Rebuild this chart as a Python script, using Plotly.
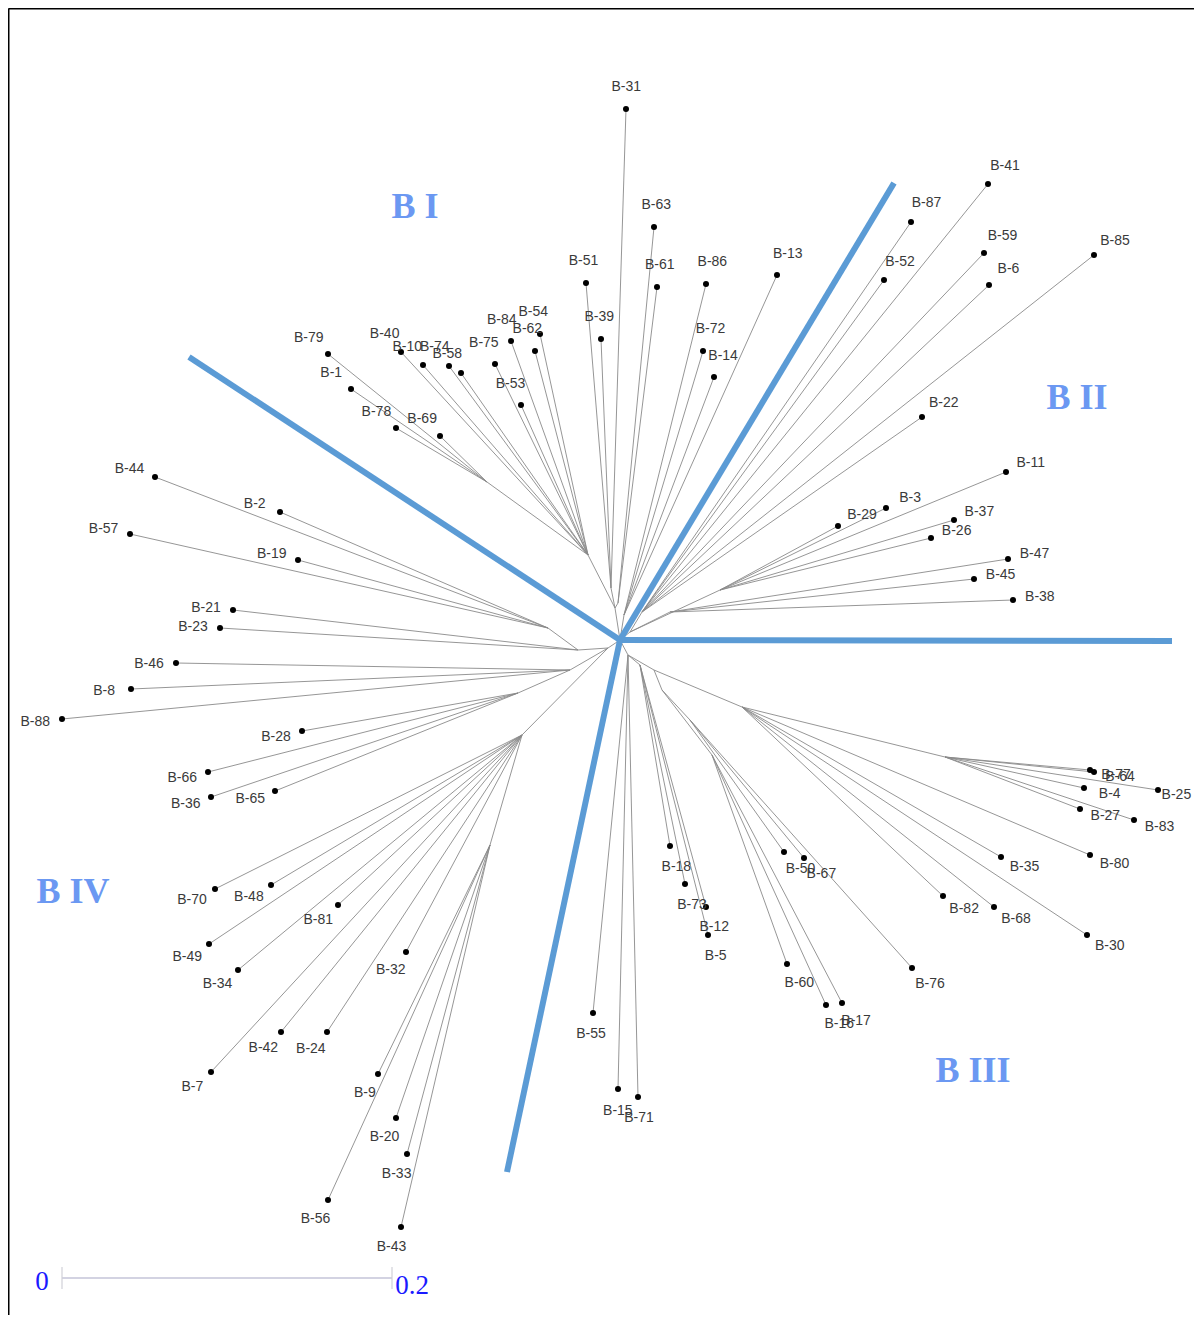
import math
import plotly.graph_objects as go

# ---------------- data: internal nodes of the unrooted tree ----------------
node_names  = ["C", "I0", "I1", "I2", "I3", "I4", "I5",
               "II0", "II1", "II2", "II3",
               "III0", "III1", "III2", "III3", "III4", "III5", "III6", "III7",
               "IV0", "IV1", "IV2", "IV3", "IV4", "IV5", "IV6"]
node_x      = [620, 615, 588, 487, 611, 618, 624,
               630, 642, 720, 670,
               628, 654, 742, 945, 640, 662, 712, 690,
               608, 578, 548, 570, 518, 522, 490]
node_y      = [640, 608, 555, 482, 588, 603, 615,
               632, 612, 590, 612,
               655, 670, 707, 757, 665, 690, 755, 720,
               648, 650, 628, 670, 693, 735, 845]
node_parent = [None, "C", "I0", "I1", "I0", "I0", "C",
               "C", "II0", "II0", "II0",
               "C", "III0", "III1", "III2", "III0", "III1", "III5", "III5",
               "C", "IV0", "IV1", "IV0", "IV3", "IV0", "IV5"]

# ---------------- data: leaves ----------------
leaf_names = ["B-31", "B-63", "B-51", "B-61", "B-86", "B-13", "B-39", "B-72", "B-14",
              "B-84", "B-54", "B-62", "B-75", "B-53", "B-40", "B-10", "B-74", "B-58",
              "B-79", "B-1", "B-78", "B-69",
              "B-41", "B-87", "B-59", "B-85", "B-52", "B-6", "B-22",
              "B-11", "B-3", "B-29", "B-37", "B-26", "B-47", "B-45", "B-38",
              "B-77", "B-64", "B-25", "B-4", "B-27", "B-83", "B-80", "B-35", "B-82",
              "B-68", "B-30", "B-76", "B-50", "B-67", "B-60", "B-16", "B-17",
              "B-18", "B-73", "B-12", "B-5", "B-55", "B-15", "B-71",
              "B-44", "B-2", "B-57", "B-19", "B-21", "B-23", "B-46", "B-8", "B-88",
              "B-28", "B-66", "B-36", "B-65", "B-70", "B-48", "B-81", "B-49", "B-34",
              "B-32", "B-42", "B-24", "B-7", "B-9", "B-20", "B-33", "B-56", "B-43"]
leaf_x = [626, 654, 586, 657, 706, 777, 601, 703, 714,
          511, 540, 535, 495, 521, 401, 423, 449, 461,
          328, 351, 396, 440,
          988, 911, 984, 1094, 884, 989, 922,
          1006, 886, 838, 954, 931, 1008, 974, 1013,
          1090, 1094, 1158, 1084, 1080, 1134, 1090, 1001, 943,
          994, 1087, 912, 784, 804, 787, 826, 842,
          670, 685, 706, 708, 593, 618, 638,
          155, 280, 130, 298, 233, 220, 176, 131, 62,
          302, 208, 211, 275, 215, 271, 338, 209, 238,
          406, 281, 327, 211, 378, 396, 407, 328, 401]
leaf_y = [109, 227, 283, 287, 284, 275, 339, 351, 377,
          341, 334, 351, 364, 405, 352, 365, 366, 373,
          354, 389, 428, 436,
          184, 222, 253, 255, 280, 285, 417,
          472, 508, 526, 520, 538, 559, 579, 600,
          770, 772, 790, 788, 809, 820, 855, 857, 896,
          907, 935, 968, 852, 858, 964, 1005, 1003,
          846, 884, 907, 935, 1013, 1089, 1097,
          477, 512, 534, 560, 610, 628, 663, 689, 719,
          731, 772, 797, 791, 889, 885, 905, 944, 970,
          952, 1032, 1032, 1072, 1074, 1118, 1154, 1200, 1227]
leaf_parent = ["I3", "I4", "I3", "I4", "I5", "I5", "I3", "I5", "I5",
               "I1", "I1", "I1", "I1", "I1", "I1", "I1", "I1", "I1",
               "I2", "I2", "I2", "I2",
               "II1", "II1", "II1", "II1", "II1", "II1", "II1",
               "II2", "II2", "II2", "II2", "II2", "II3", "II3", "II3",
               "III3", "III3", "III3", "III3", "III3", "III3", "III2", "III2", "III2",
               "III2", "III2", "III7", "III7", "III7", "III6", "III6", "III6",
               "III4", "III4", "III4", "III4", "III0", "III0", "III0",
               "IV2", "IV2", "IV2", "IV2", "IV1", "IV1", "IV3", "IV3", "IV3",
               "IV4", "IV4", "IV4", "IV4", "IV5", "IV5", "IV5", "IV5", "IV5",
               "IV5", "IV5", "IV5", "IV5", "IV6", "IV6", "IV6", "IV6", "IV6"]

# cluster labels and separators
cluster_names = ["B I", "B II", "B III", "B IV"]
cluster_x = [415, 1077, 973, 73]
cluster_y = [209, 400, 1073, 894]
divider_end_x = [189, 894, 1172, 507]
divider_end_y = [357, 183, 641, 1172]

# scale bar (0 .. 0.2)
scale_values = [0, 0.2]
scale_px_per_unit = 1650.0
scale_origin = (62, 1278)

W, H = 1202, 1323
PAGE_OFFSET = 8  # default body margin of the html page
FIG_W, FIG_H = W - PAGE_OFFSET, H - 2 * PAGE_OFFSET
VISIBLE_RIGHT = W - PAGE_OFFSET - 2

pos = {n: (x, y) for n, x, y in zip(node_names, node_x, node_y)}
parent_of = dict(zip(node_names, node_parent))
center = pos["C"]

# ---------------- edges ----------------
ex, ey = [], []
for n, p in parent_of.items():
    if p is None:
        continue
    ex += [pos[n][0], pos[p][0], None]
    ey += [pos[n][1], pos[p][1], None]
for lx, ly, p in zip(leaf_x, leaf_y, leaf_parent):
    ex += [lx, pos[p][0], None]
    ey += [ly, pos[p][1], None]

fig = go.Figure()
fig.add_trace(go.Scatter(x=ex, y=ey, mode="lines",
                         line=dict(color="#8a8a8a", width=0.9),
                         hoverinfo="skip", showlegend=False))

# dividers
dx, dy = [], []
for x2, y2 in zip(divider_end_x, divider_end_y):
    dx += [center[0], x2, None]
    dy += [center[1], y2, None]
fig.add_trace(go.Scatter(x=dx, y=dy, mode="lines",
                         line=dict(color="#5b9bd5", width=6),
                         hoverinfo="skip", showlegend=False))

# leaf dots
fig.add_trace(go.Scatter(x=leaf_x, y=leaf_y, mode="markers",
                         marker=dict(color="black", size=6),
                         text=leaf_names, hoverinfo="text", showlegend=False))

# leaf labels placed radially outward from the centre (kept inside the page)
tx, ty = [], []
for name, lx, ly in zip(leaf_names, leaf_x, leaf_y):
    vx, vy = lx - center[0], ly - center[1]
    r = math.hypot(vx, vy)
    half_w = 3.9 * len(name)
    tx.append(min(lx + 27 * vx / r, VISIBLE_RIGHT - half_w))
    ty.append(ly + 22 * vy / r)
fig.add_trace(go.Scatter(x=tx, y=ty, mode="text", text=leaf_names,
                         textposition="middle center", cliponaxis=False,
                         textfont=dict(family="Liberation Sans, Arial, sans-serif",
                                       size=14, color="#3a3a3a"),
                         hoverinfo="skip", showlegend=False))

# cluster labels
fig.add_trace(go.Scatter(x=cluster_x, y=cluster_y, mode="text", text=cluster_names,
                         textposition="middle center", cliponaxis=False,
                         textfont=dict(family="Liberation Serif, Times New Roman, serif",
                                       size=36, color="#6b98f2"),
                         texttemplate="<b>%{text}</b>",
                         hoverinfo="skip", showlegend=False))

# scale bar
sx = [scale_origin[0] + v * scale_px_per_unit for v in scale_values]
fig.add_trace(go.Scatter(x=[sx[0], sx[1]], y=[scale_origin[1]] * 2, mode="lines",
                         line=dict(color="#c4c4d8", width=1.5),
                         hoverinfo="skip", showlegend=False))
for xv in sx:
    fig.add_trace(go.Scatter(x=[xv, xv], y=[scale_origin[1] - 11, scale_origin[1] + 11],
                             mode="lines", line=dict(color="#d0d0d8", width=1.2),
                             hoverinfo="skip", showlegend=False))
fig.add_trace(go.Scatter(x=[sx[0] - 20, sx[1] + 20], y=[scale_origin[1] + 5, scale_origin[1] + 9],
                         mode="text", text=[f"{v:g}" for v in scale_values], cliponaxis=False,
                         textfont=dict(family="Liberation Serif, Times New Roman, serif",
                                       size=27, color="#1a1aff"),
                         hoverinfo="skip", showlegend=False))

# frame (left and top edges visible)
fx = PAGE_OFFSET + 0.5
fig.add_shape(type="line", x0=fx, x1=fx, y0=fx, y1=H + 20, line=dict(color="black", width=2))
fig.add_shape(type="line", x0=fx, x1=W + 20, y0=fx, y1=fx, line=dict(color="black", width=2))

fig.update_layout(width=FIG_W, height=FIG_H, margin=dict(l=0, r=0, t=0, b=0),
                  paper_bgcolor="white", plot_bgcolor="white",
                  xaxis=dict(range=[PAGE_OFFSET, PAGE_OFFSET + FIG_W], visible=False, fixedrange=True),
                  yaxis=dict(range=[PAGE_OFFSET + FIG_H, PAGE_OFFSET], visible=False, fixedrange=True),
                  showlegend=False)

fig.write_html("out.html")
